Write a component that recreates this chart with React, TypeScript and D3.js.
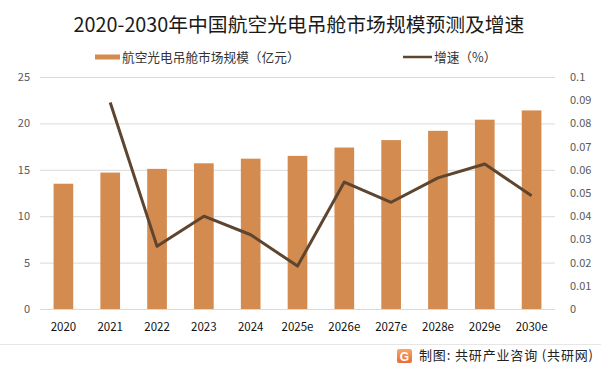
import { useEffect, useRef } from 'react';
import * as d3 from 'd3';

const years = ['2020', '2021', '2022', '2023', '2024', '2025e', '2026e', '2027e', '2028e', '2029e', '2030e'];
const marketSize = [13.5, 14.7, 15.1, 15.7, 16.2, 16.5, 17.4, 18.2, 19.2, 20.4, 21.4];
const growth = [null, 0.089, 0.027, 0.04, 0.032, 0.0185, 0.0547, 0.046, 0.0565, 0.0625, 0.0488];
const leftTicks = [0, 5, 10, 15, 20, 25];
const rightTicks = [0, 0.01, 0.02, 0.03, 0.04, 0.05, 0.06, 0.07, 0.08, 0.09, 0.1];

const W = 601;
const H = 373;
const barColor = '#d38b4f';
const lineColor = '#5e4530';
const font = '"Microsoft YaHei", "Noto Sans CJK SC", sans-serif';

export default function App() {
  const svgRef = useRef<SVGSVGElement>(null);

  useEffect(() => {
    if (!svgRef.current) return;
    const svg = d3.select(svgRef.current);
    svg.selectAll('*').remove();

    const left = 40;
    const right = 555;
    const top = 77;
    const bottom = 309;

    const x = d3.scaleBand().domain(years).range([left, right]).paddingInner(0.58).paddingOuter(0.29);
    const yL = d3.scaleLinear().domain([0, 25]).range([bottom, top]);
    const yR = d3.scaleLinear().domain([0, 0.1]).range([bottom, top]);

    svg.append('rect').attr('width', W).attr('height', H).attr('fill', '#fff');

    // title
    svg.append('text')
      .attr('x', 299).attr('y', 32)
      .attr('text-anchor', 'middle')
      .attr('font-size', 19.8).attr('fill', '#1a1a1a')
      .attr('font-family', font)
      .text('2020-2030年中国航空光电吊舱市场规模预测及增速');

    // legend
    svg.append('rect').attr('x', 95).attr('y', 54.5).attr('width', 25).attr('height', 5).attr('fill', barColor);
    svg.append('text').attr('x', 122).attr('y', 61.5).attr('font-size', 12.7).attr('fill', '#333')
      .attr('font-family', font).text('航空光电吊舱市场规模（亿元）');
    svg.append('line').attr('x1', 403).attr('x2', 432).attr('y1', 57).attr('y2', 57)
      .attr('stroke', lineColor).attr('stroke-width', 2.5);
    svg.append('text').attr('x', 434).attr('y', 61.5).attr('font-size', 12.7).attr('fill', '#333')
      .attr('font-family', font).text('增速（%）');

    // gridlines
    svg.append('g').selectAll('line').data(leftTicks).join('line')
      .attr('x1', left).attr('x2', right)
      .attr('y1', d => yL(d) + 0.5).attr('y2', d => yL(d) + 0.5)
      .attr('stroke', '#d9d9d9').attr('stroke-width', 1);

    // left axis labels
    svg.append('g').selectAll('text').data(leftTicks).join('text')
      .attr('x', 30).attr('y', d => yL(d) + 4)
      .attr('text-anchor', 'end').attr('font-size', 11).attr('fill', '#595959')
      .attr('font-family', font).text(d => d);

    // right axis labels
    svg.append('g').selectAll('text').data(rightTicks).join('text')
      .attr('x', 570).attr('y', d => yR(d) + 4)
      .attr('text-anchor', 'start').attr('font-size', 11).attr('fill', '#595959')
      .attr('font-family', font).text(d => d3.format('~g')(+d.toFixed(2)));

    // bars
    svg.append('g').selectAll('rect').data(marketSize).join('rect')
      .attr('x', (d, i) => x(years[i])!)
      .attr('width', x.bandwidth())
      .attr('y', d => yL(d))
      .attr('height', d => bottom - yL(d))
      .attr('fill', barColor);

    // x labels
    svg.append('g').selectAll('text').data(years).join('text')
      .attr('x', d => x(d)! + x.bandwidth() / 2).attr('y', 331)
      .attr('text-anchor', 'middle').attr('font-size', 11.5).attr('fill', '#111')
      .attr('font-family', font).text(d => d);

    // growth line
    const pts = growth
      .map((g, i) => ({ g, i }))
      .filter(p => p.g !== null) as { g: number; i: number }[];
    const line = d3.line<{ g: number; i: number }>()
      .x(p => x(years[p.i])! + x.bandwidth() / 2)
      .y(p => yR(p.g));
    svg.append('path').datum(pts).attr('d', line)
      .attr('fill', 'none').attr('stroke', lineColor).attr('stroke-width', 3)
      .attr('stroke-linejoin', 'round');

    // footer separator
    svg.append('line').attr('x1', 0).attr('x2', W).attr('y1', 344.5).attr('y2', 344.5)
      .attr('stroke', '#e6e6e6');

    // footer logo
    const logo = svg.append('g').attr('transform', 'translate(397,349)');
    const grad = svg.append('defs').append('linearGradient').attr('id', 'logoGrad')
      .attr('x1', 0).attr('y1', 0).attr('x2', 0).attr('y2', 1);
    grad.append('stop').attr('offset', '0%').attr('stop-color', '#f7a866');
    grad.append('stop').attr('offset', '100%').attr('stop-color', '#ec6a35');
    logo.append('rect').attr('width', 15).attr('height', 14).attr('rx', 2).attr('fill', 'url(#logoGrad)');
    logo.append('text').attr('x', 7.5).attr('y', 11.5).attr('text-anchor', 'middle')
      .attr('font-size', 12).attr('font-weight', 'bold').attr('fill', '#fff')
      .attr('font-family', 'Arial, sans-serif').text('G');

    svg.append('text').attr('x', 419).attr('y', 360).attr('font-size', 13).attr('fill', '#222')
      .attr('font-family', font)
      .attr('textLength', 174).attr('lengthAdjust', 'spacing')
      .text('制图: 共研产业咨询 (共研网)');
  }, []);

  return (
    <div style={{ position: 'fixed', left: 0, top: 0 }}>
      <svg ref={svgRef} width={W} height={H} style={{ display: 'block' }} />
    </div>
  );
}
